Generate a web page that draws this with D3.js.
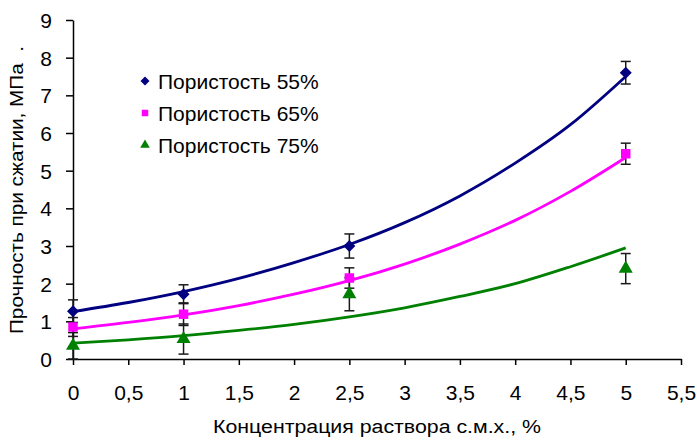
<!DOCTYPE html>
<html>
<head>
<meta charset="utf-8">
<script src="https://cdn.jsdelivr.net/npm/d3@7"></script>
<style>
  html, body { margin: 0; padding: 0; background: #fff; }
  svg { display: block; font-family: "Liberation Sans", Arial, sans-serif; }
</style>
</head>
<body>
<svg id="chart" width="697" height="440"></svg>
<script>
// Measured concentrations (%)
const concentrations = [0, 1, 2.5, 5];

// Compressive strength, MPa, per porosity
const strength55 = [1.27, 1.72, 3.0, 7.6];
const strength65 = [0.85, 1.19, 2.15, 5.45];
const strength75 = [0.35, 0.53, 1.72, 2.4];

// Error half-widths, MPa
const error55 = [0.3, 0.25, 0.32, 0.3];
const error65 = [0.25, 0.3, 0.27, 0.28];
const error75 = [0.35, 0.4, 0.44, 0.4];

// Trend curves sampled every 0.5 %
const trendX = [0, 0.5, 1, 1.5, 2, 2.5, 3, 3.5, 4, 4.5, 5];
const trend55 = [1.26, 1.5, 1.79, 2.14, 2.56, 3.04, 3.62, 4.33, 5.2, 6.22, 7.5];
const trend65 = [0.8, 0.97, 1.17, 1.42, 1.72, 2.08, 2.52, 3.05, 3.68, 4.45, 5.35];
const trend75 = [0.42, 0.51, 0.62, 0.76, 0.92, 1.12, 1.36, 1.66, 2.0, 2.45, 2.95];

// Axis ticks
const xTicks = [0, 0.5, 1, 1.5, 2, 2.5, 3, 3.5, 4, 4.5, 5, 5.5];
const yTicks = [0, 1, 2, 3, 4, 5, 6, 7, 8, 9];

const seriesNames = ["Пористость 55%", "Пористость 65%", "Пористость 75%"];
const colors = ["#000080", "#FF00FF", "#008000"];

// Square diamond (a square turned 45°), as drawn by spreadsheet charts
const symbolWideDiamond = {
  draw(context, size) {
    const r = Math.sqrt(size / 2);
    context.moveTo(0, -r);
    context.lineTo(r, 0);
    context.lineTo(0, r);
    context.lineTo(-r, 0);
    context.closePath();
  }
};
const symbols = [symbolWideDiamond, d3.symbolSquare, d3.symbolTriangle];
const markerSizes = [72, 90, 85];
const legendSizes = [40, 42, 40];

const series = seriesNames.map((name, k) => ({
  name,
  values: [strength55, strength65, strength75][k],
  errors: [error55, error65, error75][k],
  trend: [trend55, trend65, trend75][k],
  color: colors[k],
  symbol: symbols[k],
  size: markerSizes[k],
  legendSize: legendSizes[k]
}));

const svg = d3.select("#chart");
const plotLeft = 73, plotRight = 681, plotTop = 20, plotBottom = 359;

const x = d3.scaleLinear().domain([0, 5.5]).range([plotLeft, plotRight]);
const y = d3.scaleLinear().domain([0, 9]).range([plotBottom, plotTop]);

const fmt = d => String(d).replace(".", ",");

// X axis
const xAxis = svg.append("g")
  .attr("transform", `translate(0,${plotBottom})`)
  .call(d3.axisBottom(x).tickValues(xTicks).tickFormat(fmt).tickSize(6).tickSizeOuter(0));
// Y axis
const yAxis = svg.append("g")
  .attr("transform", `translate(${plotLeft},0)`)
  .call(d3.axisLeft(y).tickValues(yTicks).tickFormat(d => d).tickSize(7).tickSizeOuter(0));

[xAxis, yAxis].forEach(g => {
  g.select(".domain").attr("stroke", "#000").attr("stroke-width", 1.5);
  g.selectAll(".tick line").attr("stroke", "#000").attr("stroke-width", 1.5);
  g.selectAll(".tick text")
    .attr("fill", "#000")
    .style("font-size", "21px")
    .style("font-family", "'Liberation Sans', Arial, sans-serif");
});
xAxis.selectAll(".tick text").attr("dy", null).attr("y", 41);
yAxis.selectAll(".tick text").attr("x", -21).attr("dy", "0.36em");

// Axis titles
svg.append("text")
  .attr("x", (plotLeft + plotRight) / 2)
  .attr("y", 433)
  .attr("text-anchor", "middle")
  .style("font-size", "18px")
  .attr("textLength", 328)
  .attr("lengthAdjust", "spacingAndGlyphs")
  .text("Концентрация раствора с.м.х., %");

svg.append("text")
  .attr("transform", `translate(23,${(46 + 334) / 2}) rotate(-90)`)
  .attr("text-anchor", "middle")
  .style("font-size", "18px")
  .style("white-space", "pre")
  .attr("textLength", 288)
  .attr("lengthAdjust", "spacingAndGlyphs")
  .text("Прочность при сжатии, МПа\u00a0\u00a0.");

const plot = svg.append("g");

// Error bars
series.forEach(s => {
  const g = plot.append("g").attr("stroke", "#1a1a1a").attr("stroke-width", 1.5).attr("fill", "none");
  concentrations.forEach((c, i) => {
    const cx = x(c);
    const y1 = y(s.values[i] + s.errors[i]);
    const y0 = y(s.values[i] - s.errors[i]);
    g.append("line").attr("x1", cx).attr("x2", cx).attr("y1", y1).attr("y2", y0);
    g.append("line").attr("x1", cx - 5).attr("x2", cx + 5).attr("y1", y1).attr("y2", y1);
    g.append("line").attr("x1", cx - 5).attr("x2", cx + 5).attr("y1", y0).attr("y2", y0);
  });
});

// Trend curves
const line = d3.line()
  .x((d, i) => x(trendX[i]))
  .y(d => y(d))
  .curve(d3.curveMonotoneX);

series.forEach(s => {
  plot.append("path")
    .datum(s.trend)
    .attr("fill", "none")
    .attr("stroke", s.color)
    .attr("stroke-width", 2.8)
    .attr("d", line);
});

// Markers
series.forEach(s => {
  plot.append("g").selectAll("path")
    .data(s.values)
    .join("path")
    .attr("transform", (d, i) => `translate(${x(concentrations[i])},${y(d)})`)
    .attr("d", d3.symbol().type(s.symbol).size(s.size))
    .attr("fill", s.color);
});

// Legend
const legend = svg.append("g").attr("transform", "translate(145,81)");
series.forEach((s, i) => {
  const row = legend.append("g").attr("transform", `translate(0,${i * 32})`);
  row.append("path")
    .attr("d", d3.symbol().type(s.symbol).size(s.legendSize))
    .attr("fill", s.color);
  row.append("text")
    .attr("x", 13)
    .attr("y", 7.5)
    .style("font-size", "21px")
    .attr("fill", "#000")
    .text(s.name);
});
</script>
</body>
</html>
